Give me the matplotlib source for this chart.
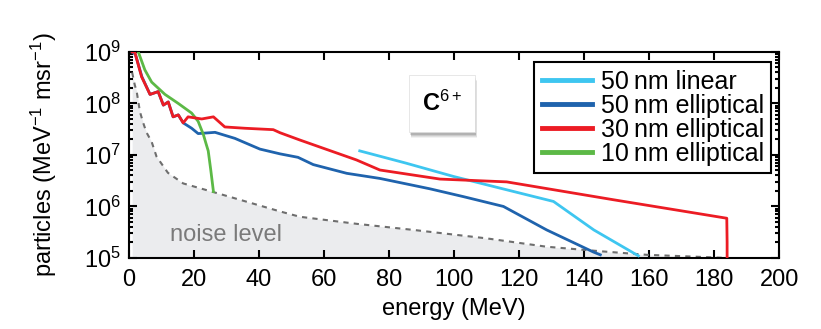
import matplotlib
matplotlib.use("Agg")
import matplotlib.pyplot as plt
from matplotlib.patches import Rectangle
from matplotlib.ticker import LogLocator, LogFormatterMathtext, MultipleLocator

plt.rcParams['font.family'] = ['Liberation Sans', 'DejaVu Sans']
plt.rcParams['mathtext.fontset'] = 'custom'
plt.rcParams['mathtext.rm'] = 'Liberation Sans'
plt.rcParams['mathtext.it'] = 'Liberation Sans:italic'
plt.rcParams['mathtext.bf'] = 'Liberation Sans:bold'
plt.rcParams['font.size'] = 17

# data (energy in MeV, particles per MeV per msr)
lin50_e = [71, 85, 100, 115, 130.6, 143, 156.7]
lin50_y = [1.2e7, 7.0e6, 3.8e6, 2.2e6, 1.25e6, 3.5e5, 1.1e5]

ell50_e = [1, 2, 4, 6.5, 9, 10.6, 12.1, 13.6, 15.2, 16.7, 19.3, 21.3, 26.5, 32.6,
           40.3, 46.5, 52, 56.7, 67, 77.2, 92.6, 102.9, 115.2, 128.5, 142.9, 145]
ell50_y = [1e9, 9e8, 3.3e8, 1.5e8, 1.7e8, 9.3e7, 1.07e8, 5.5e7, 6.0e7, 4.2e7, 3.3e7,
           2.6e7, 2.75e7, 2.1e7, 1.3e7, 1.05e7, 9.0e6, 6.5e6, 4.4e6, 3.5e6, 2.2e6,
           1.55e6, 1.0e6, 3.5e5, 1.3e5, 1.15e5]

ell30_e = [1, 1.8, 3.9, 6.5, 9, 10.6, 12.1, 13.6, 15.2, 16.7, 18.2, 22.4, 26, 29.5,
           35.7, 44.4, 46.5, 52.6, 70, 77.2, 95.7, 116.2, 149, 183.9, 184, 184]
ell30_y = [1e9, 1e9, 3.3e8, 1.5e8, 1.7e8, 9.3e7, 1.07e8, 5.5e7, 6.0e7, 4.2e7, 5.5e7,
           5.0e7, 5.5e7, 3.5e7, 3.3e7, 3.1e7, 2.7e7, 1.95e7, 8.0e6, 5.1e6, 3.4e6,
           3.0e6, 1.35e6, 5.9e5, 2e5, 1e5]

ell10_e = [2.9, 4.9, 7, 11.1, 15.2, 19.3, 21.3, 22.9, 23.8, 24.4, 25.2, 26]
ell10_y = [1e9, 4.5e8, 2.6e8, 1.5e8, 1.0e8, 6.5e7, 4.5e7, 2.5e7, 1.6e7, 1.2e7, 5e6, 1.95e6]

noise_e = [1, 1.8, 2.4, 3.4, 4.4, 5.4, 7, 8.5, 12, 16.7, 26, 35, 46.5, 52.6, 70,
           87.5, 110, 128.5, 145, 159.3, 172, 184]
noise_y = [4e8, 2.3e8, 1.7e8, 6.9e7, 4.2e7, 2.75e7, 1.8e7, 9.3e6, 4.5e6, 2.8e6,
           1.9e6, 1.3e6, 8.0e5, 6.3e5, 4.6e5, 3.5e5, 2.4e5, 1.65e5, 1.35e5, 1.15e5,
           1.07e5, 1.0e5]

fig = plt.figure(figsize=(8.21, 3.29), dpi=100)
ax = fig.add_axes([0.157, 0.216, 0.792, 0.626])

ax.fill_between(noise_e, noise_y, 1e5, color='#ebecee', lw=0, zorder=1)
ax.plot(noise_e, noise_y, ls=(0, (2.5, 2.5)), color='#6e6e6e', lw=1.5, zorder=2)

ax.plot(lin50_e, lin50_y, color='#3ec6f0', lw=2, label='50\u2009nm linear', zorder=3)
ax.plot(ell50_e, ell50_y, color='#1f63ad', lw=2, label='50\u2009nm elliptical', zorder=3)
ax.plot(ell30_e, ell30_y, color='#ec1c24', lw=2, label='30\u2009nm elliptical', zorder=4)
ax.plot(ell10_e, ell10_y, color='#5cb946', lw=2, label='10\u2009nm elliptical', zorder=3)

ax.set_yscale('log')
ax.set_xlim(0, 200)
ax.set_ylim(1e5, 1e9)
ax.xaxis.set_major_locator(MultipleLocator(20))
ax.yaxis.set_major_locator(LogLocator(base=10, numticks=10))
ax.yaxis.set_minor_locator(LogLocator(base=10, subs=range(2, 10), numticks=20))
ax.yaxis.set_major_formatter(LogFormatterMathtext())
ax.tick_params(which='both', direction='in', top=True, right=True, width=1.5)
ax.tick_params(which='major', length=6, labelsize=17)
ax.tick_params(axis='x', which='major', pad=8)
ax.tick_params(axis='y', which='major', pad=6)
ax.tick_params(which='minor', length=3)
for s in ax.spines.values():
    s.set_linewidth(1.5)

ax.set_xlabel('energy (MeV)', fontsize=17, labelpad=5)
ax.set_ylabel('particles (MeV$^{-1}$ msr$^{-1}$)', fontsize=17, labelpad=18)

ax.text(0.063, 0.11, 'noise level', transform=ax.transAxes, color='#7a7a7a',
        fontsize=17, ha='left', va='center', zorder=5)

# C6+ box with soft shadow
for i, a in enumerate([0.05, 0.07, 0.09, 0.12]):
    off = 0.012 - i * 0.002
    ax.add_patch(Rectangle((0.431 + off * 0.3, 0.612 - off * 2.6), 0.101, 0.276,
                           transform=ax.transAxes, facecolor='k', alpha=a,
                           lw=0, zorder=6))
ax.add_patch(Rectangle((0.431, 0.612), 0.101, 0.276, transform=ax.transAxes,
                       facecolor='white', edgecolor='#dddddd', lw=0.5, zorder=7))
ax.text(0.4815, 0.75, 'C$^{6+}$', transform=ax.transAxes, fontsize=17,
        fontweight='bold', ha='center', va='center', zorder=8)

leg = ax.legend(loc='upper right', bbox_to_anchor=(0.988, 0.951), borderaxespad=0,
                fancybox=False, edgecolor='black', framealpha=1, fontsize=18,
                handlelength=2.0, handletextpad=0.35, labelspacing=0.0,
                borderpad=0.3)
leg.get_frame().set_linewidth(1.5)
for h in leg.get_lines():
    h.set_linewidth(3.5)

fig.savefig('out.png', dpi=100)
